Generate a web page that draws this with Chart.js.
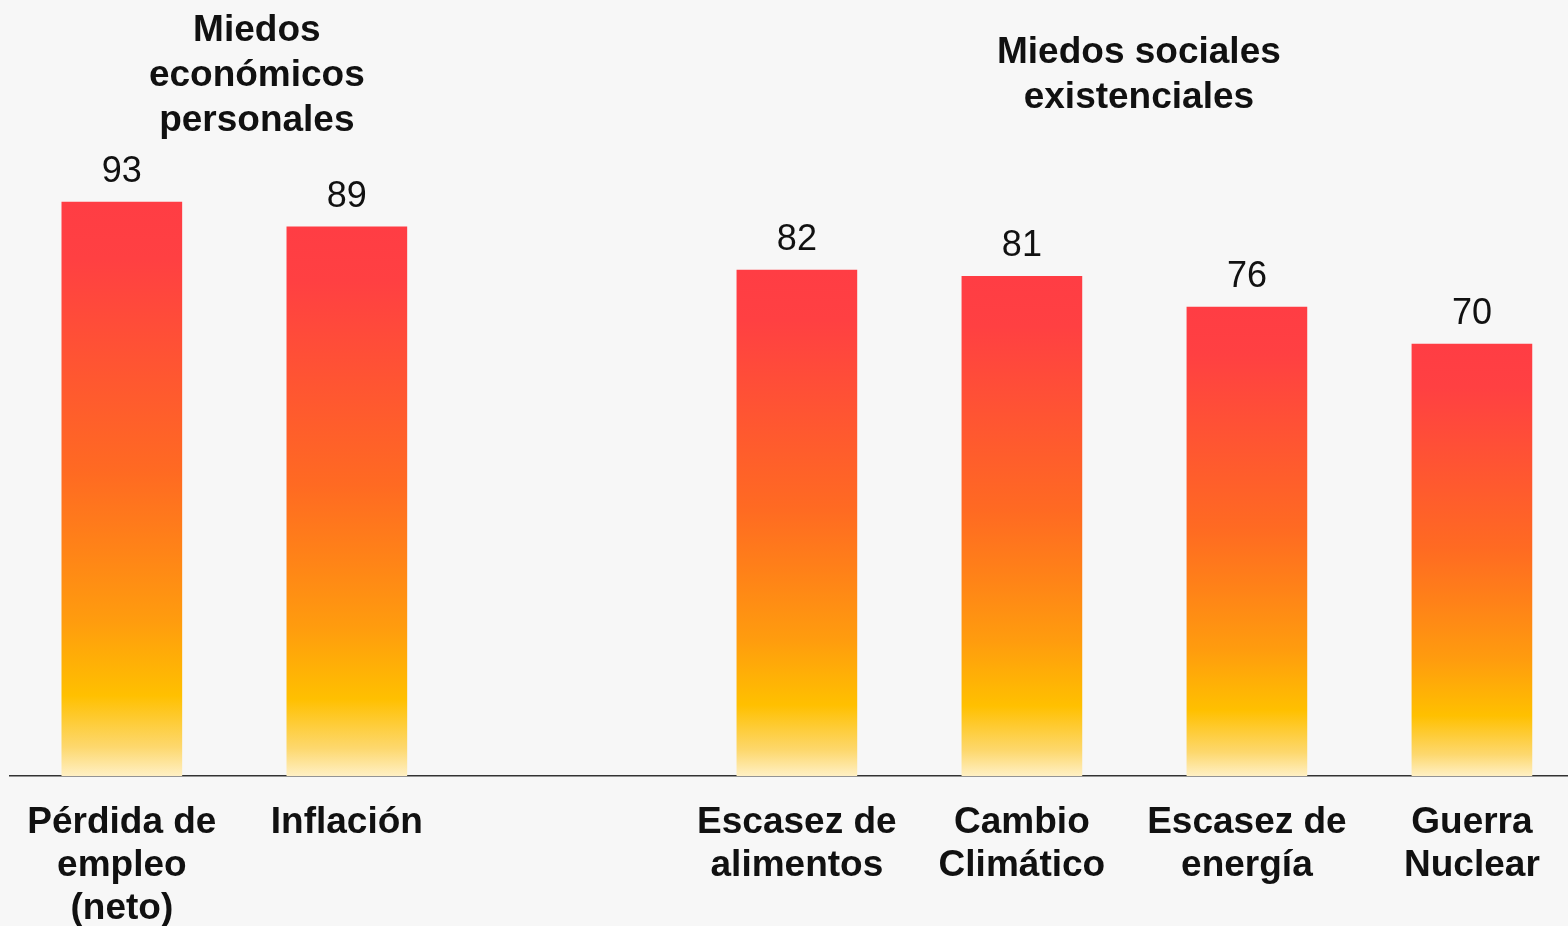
<!DOCTYPE html>
<html>
<head>
<meta charset="utf-8">
<script src="https://cdn.jsdelivr.net/npm/chart.js@4"></script>
<style>
  body { margin: 0; background: #f7f7f7; }
  canvas { display: block; }
</style>
</head>
<body>
<canvas id="fearChart" width="1568" height="926"></canvas>
<script>
// Category labels (multi-line), their slot on the x axis, and values
const categories = [
  ["Pérdida de", "empleo", "(neto)"],
  ["Inflación"],
  ["Escasez de", "alimentos"],
  ["Cambio", "Climático"],
  ["Escasez de", "energía"],
  ["Guerra", "Nuclear"]
];
const slots = [0, 1, 3, 4, 5, 6];
const values = [93, 89, 82, 81, 76, 70];

// Group headings and the slot they are centred over
const groupTitles = [
  ["Miedos", "económicos", "personales"],
  ["Miedos sociales", "existenciales"]
];
const groupCenters = [0.6, 4.52];
const groupTop = [31, 53];

const FONT = "'Liberation Sans', Arial, sans-serif";
const TEXT = "#111111";

function barGradient(context) {
  const chart = context.chart;
  const yScale = chart.scales.y;
  if (!chart.chartArea || !yScale || context.dataIndex === undefined) return "#ff4044";
  const top = yScale.getPixelForValue(values[context.dataIndex]);
  const base = yScale.getPixelForValue(0);
  if (!isFinite(top) || !isFinite(base)) return "#ff4044";
  const g = chart.ctx.createLinearGradient(0, top, 0, base);
  g.addColorStop(0, "#ff3d44");
  g.addColorStop(0.1, "#ff4042");
  g.addColorStop(0.33, "#ff5a2e");
  g.addColorStop(0.47, "#ff6a22");
  g.addColorStop(0.6, "#ff8218");
  g.addColorStop(0.73, "#ff9c0e");
  g.addColorStop(0.86, "#ffc000");
  g.addColorStop(0.95, "#fdd86e");
  g.addColorStop(1, "#fff0c4");
  return g;
}

// value labels above bars and group headings
const labelsPlugin = {
  id: "labels",
  afterDatasetsDraw(chart) {
    const ctx = chart.ctx;
    const meta = chart.getDatasetMeta(0);
    ctx.save();
    ctx.fillStyle = TEXT;
    ctx.textAlign = "center";
    ctx.textBaseline = "middle";
    ctx.font = "36px " + FONT;
    meta.data.forEach((bar, i) => {
      ctx.fillText(String(values[i]), bar.x, bar.y - 30);
    });

    ctx.font = "bold 37px " + FONT;
    groupTitles.forEach((lines, g) => {
      const x = chart.scales.x.getPixelForValue(groupCenters[g]);
      lines.forEach((line, k) => {
        ctx.fillText(line, x, groupTop[g] + k * 45);
      });
    });
    ctx.restore();
  }
};

const ctx = document.getElementById("fearChart").getContext("2d");

new Chart(ctx, {
  type: "bar",
  data: {
    datasets: [{
      data: values.map((v, i) => ({ x: slots[i], y: v })),
      backgroundColor: barGradient,
      barThickness: 120,
      borderWidth: 0
    }]
  },
  options: {
    responsive: false,
    animation: false,
    layout: { padding: { left: 10, right: 0, top: 159, bottom: 0 } },
    plugins: {
      legend: { display: false },
      tooltip: { enabled: false }
    },
    scales: {
      x: {
        type: "linear",
        offset: false,
        min: -0.497,
        max: 6.427,
        grid: { display: false, drawTicks: false, offset: false },
        border: { display: true, color: "#333333", width: 1.5 },
        afterBuildTicks(scale) {
          scale.ticks = slots.map(v => ({ value: v }));
        },
        afterFit(scale) {
          scale.height = 150;
        },
        ticks: {
          autoSkip: false,
          maxRotation: 0,
          minRotation: 0,
          padding: 25,
          color: TEXT,
          font: { family: FONT, size: 37, weight: "bold", lineHeight: 1.16 },
          callback: function(value, index) {
            return categories[index];
          }
        }
      },
      y: {
        display: false,
        min: 0,
        max: 100
      }
    }
  },
  plugins: [labelsPlugin]
});
</script>
</body>
</html>
